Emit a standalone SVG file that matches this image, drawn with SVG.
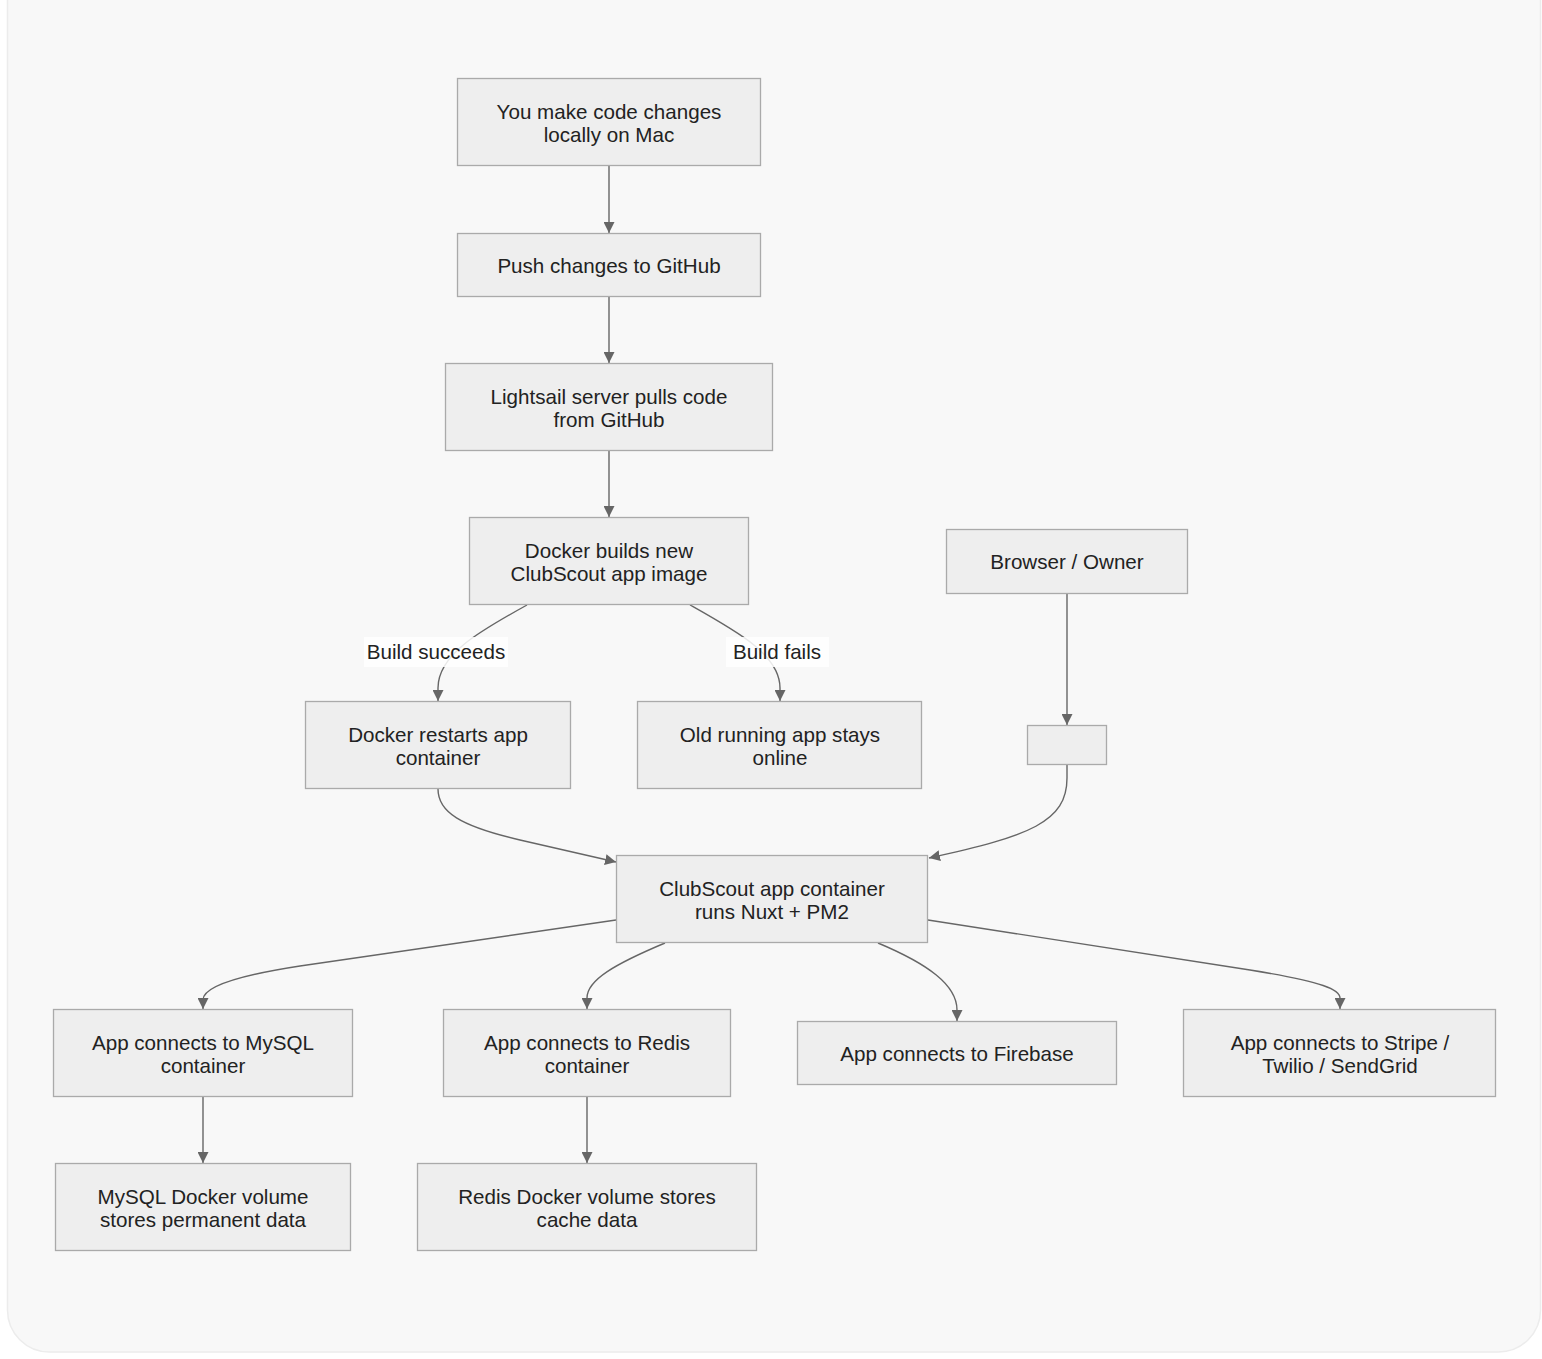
<svg xmlns="http://www.w3.org/2000/svg" width="1542" height="1359" viewBox="0 0 1542 1359">
<style>
.bg{fill:#f8f8f8;stroke:#ececec;stroke-width:1.5}
.node rect{fill:#eeeeee;stroke:#aaaaaa;stroke-width:1.3}
.node text,.lbl text{font-family:"Liberation Sans",Arial,sans-serif;font-size:20.6px;fill:#222;text-anchor:middle;dominant-baseline:central}
.edges path{fill:none;stroke:#666;stroke-width:1.4}
.lbl rect{fill:#ffffff;opacity:0.85}
</style>
<defs>
<marker id="arr" viewBox="0 0 10 10" refX="10" refY="5" markerWidth="11" markerHeight="11" markerUnits="userSpaceOnUse" orient="auto">
<path d="M0,0 L10,5 L0,10 z" fill="#666"/>
</marker>
</defs>
<rect class="bg" x="7.5" y="-60" width="1533" height="1412" rx="42"/>

<g class="edges">
<path d="M609,166 L609,233" marker-end="url(#arr)"/>
<path d="M609,297 L609,363" marker-end="url(#arr)"/>
<path d="M609,451 L609,517" marker-end="url(#arr)"/>
<path d="M527,605 C478,632 438,655 438,688 L438,701" marker-end="url(#arr)"/>
<path d="M690,605 C738,632 780,655 780,688 L780,701" marker-end="url(#arr)"/>
<path d="M1067,594 L1067,725" marker-end="url(#arr)"/>
<path d="M1067,765 L1067,778 C1067,822 1030,836 929,858" marker-end="url(#arr)"/>
<path d="M438,789 C438,812 460,826 520,840 L616,862" marker-end="url(#arr)"/>
<path d="M616,920 L300,966 C222,978 203,990 203,1000 L203,1009" marker-end="url(#arr)"/>
<path d="M665,943 C615,964 587,980 587,998 L587,1009" marker-end="url(#arr)"/>
<path d="M878,943 C928,964 957,985 957,1010 L957,1021" marker-end="url(#arr)"/>
<path d="M928,920 L1250,970 C1325,982 1340,990 1340,998 L1340,1009" marker-end="url(#arr)"/>
<path d="M203,1097 L203,1163" marker-end="url(#arr)"/>
<path d="M587,1097 L587,1163" marker-end="url(#arr)"/>
</g>

<g class="lbl" id="label-succeeds"><rect x="364" y="637" width="144" height="30"/><text x="436" y="651">Build succeeds</text></g>
<g class="lbl" id="label-fails"><rect x="726" y="637" width="103" height="30"/><text x="777" y="651">Build fails</text></g>

<g class="node" id="n-local"><rect x="457.5" y="78.5" width="303" height="87"/><text x="609" y="111">You make code changes</text><text x="609" y="134">locally on Mac</text></g>
<g class="node" id="n-push"><rect x="457.5" y="233.5" width="303" height="63"/><text x="609" y="265">Push changes to GitHub</text></g>
<g class="node" id="n-pull"><rect x="445.5" y="363.5" width="327" height="87"/><text x="609" y="396">Lightsail server pulls code</text><text x="609" y="419">from GitHub</text></g>
<g class="node" id="n-build"><rect x="469.5" y="517.5" width="279" height="87"/><text x="609" y="550">Docker builds new</text><text x="609" y="573">ClubScout app image</text></g>
<g class="node" id="n-browser"><rect x="946.5" y="529.5" width="241" height="64"/><text x="1067" y="561">Browser / Owner</text></g>
<g class="node" id="n-empty"><rect x="1027.5" y="725.5" width="79" height="39"/></g>
<g class="node" id="n-restart"><rect x="305.5" y="701.5" width="265" height="87"/><text x="438" y="734">Docker restarts app</text><text x="438" y="757">container</text></g>
<g class="node" id="n-old"><rect x="637.5" y="701.5" width="284" height="87"/><text x="780" y="734">Old running app stays</text><text x="780" y="757">online</text></g>
<g class="node" id="n-app"><rect x="616.5" y="855.5" width="311" height="87"/><text x="772" y="888">ClubScout app container</text><text x="772" y="911">runs Nuxt + PM2</text></g>
<g class="node" id="n-mysql"><rect x="53.5" y="1009.5" width="299" height="87"/><text x="203" y="1042">App connects to MySQL</text><text x="203" y="1065">container</text></g>
<g class="node" id="n-redis"><rect x="443.5" y="1009.5" width="287" height="87"/><text x="587" y="1042">App connects to Redis</text><text x="587" y="1065">container</text></g>
<g class="node" id="n-firebase"><rect x="797.5" y="1021.5" width="319" height="63"/><text x="957" y="1053">App connects to Firebase</text></g>
<g class="node" id="n-stripe"><rect x="1183.5" y="1009.5" width="312" height="87"/><text x="1340" y="1042">App connects to Stripe /</text><text x="1340" y="1065">Twilio / SendGrid</text></g>
<g class="node" id="n-mysqlvol"><rect x="55.5" y="1163.5" width="295" height="87"/><text x="203" y="1196">MySQL Docker volume</text><text x="203" y="1219">stores permanent data</text></g>
<g class="node" id="n-redisvol"><rect x="417.5" y="1163.5" width="339" height="87"/><text x="587" y="1196">Redis Docker volume stores</text><text x="587" y="1219">cache data</text></g>
</svg>
